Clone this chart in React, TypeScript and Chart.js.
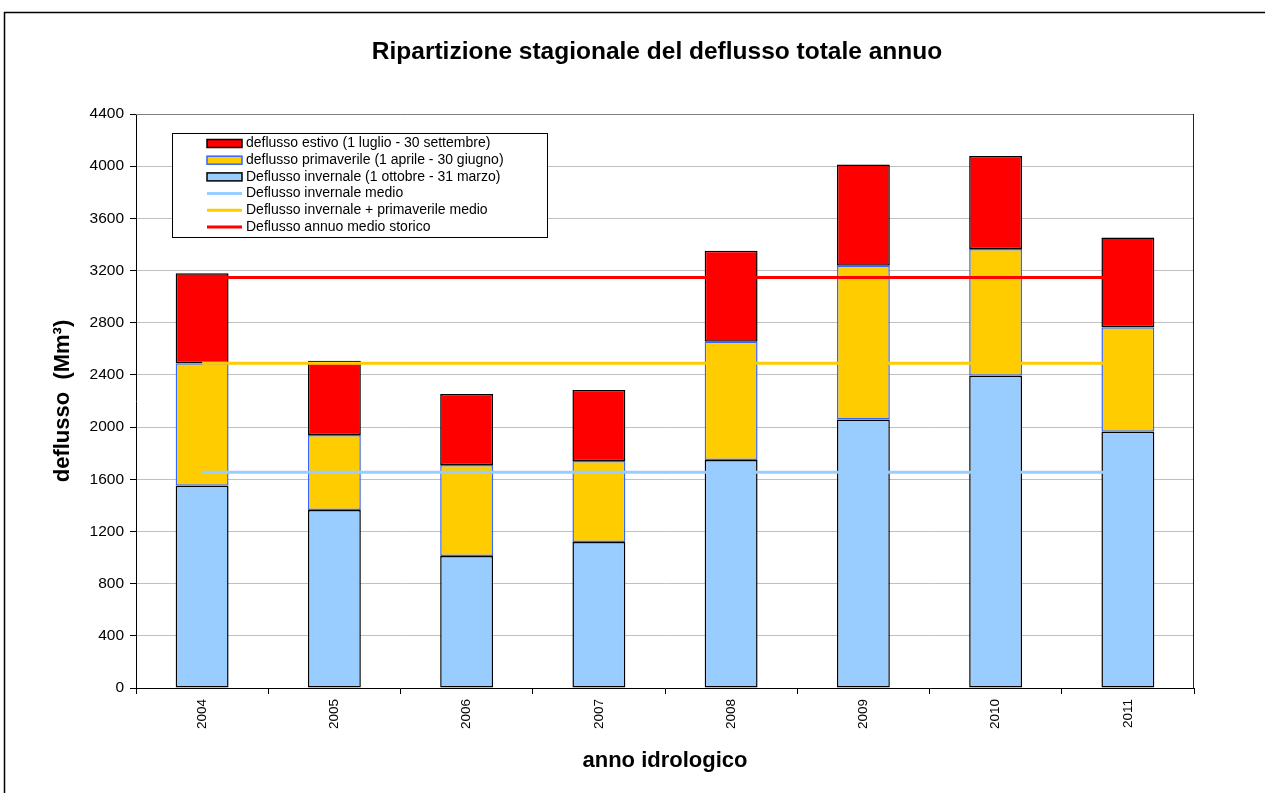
import React, { useEffect, useRef } from "react";
import { Chart, registerables } from "chart.js";

Chart.register(...registerables);

// Hydrological years on the category axis
const anni = ["2004", "2005", "2006", "2007", "2008", "2009", "2010", "2011"];

// Seasonal runoff per year (Mm³), stacked bottom to top
const deflussoInvernale = [1550, 1364, 1011, 1119, 1747, 2059, 2393, 1964];
const deflussoPrimaverile = [940, 575, 698, 621, 907, 1177, 973, 802];
const deflussoEstivo = [690, 569, 544, 544, 697, 777, 713, 688];

// Reference averages drawn as horizontal lines
const invernaleMedio = [1653, 1653, 1653, 1653, 1653, 1653, 1653, 1653];
const invernalePrimaverileMedio = [2490, 2490, 2490, 2490, 2490, 2490, 2490, 2490];
const annuoMedioStorico = [3147, 3147, 3147, 3147, 3147, 3147, 3147, 3147];

const Y_MIN = 0;
const Y_MAX = 4400;
const Y_STEP = 400;

const FONT = "'Liberation Sans', Arial, Helvetica, sans-serif";

const titolo = "Ripartizione stagionale del deflusso totale annuo";
const titoloAsseY = "deflusso  (Mm³)";
const titoloAsseX = "anno idrologico";

// Legend order: dataset indices
const legendOrder = [2, 1, 0, 3, 4, 5];

const framePlugin = {
  id: "frame",
  beforeDraw(chart: any) {
    const ctx = chart.ctx;
    ctx.save();
    ctx.fillStyle = "#ffffff";
    ctx.fillRect(0, 0, chart.width, chart.height);
    ctx.strokeStyle = "#000000";
    ctx.lineWidth = 1.5;
    ctx.strokeRect(4.5, 12.5, chart.width + 20, chart.height + 20);
    // main title
    ctx.fillStyle = "#000000";
    ctx.font = `bold 24.5px ${FONT}`;
    ctx.textAlign = "center";
    ctx.textBaseline = "middle";
    ctx.fillText(titolo, 657, 52);
    ctx.restore();
  },
  beforeDatasetsDraw(chart: any) {
    const { ctx, chartArea } = chart;
    ctx.save();
    ctx.lineWidth = 1;
    ctx.strokeStyle = "#808080";
    ctx.beginPath();
    ctx.moveTo(chartArea.left, chartArea.top + 0.5);
    ctx.lineTo(chartArea.right, chartArea.top + 0.5);
    ctx.stroke();
    ctx.strokeStyle = "#222222";
    ctx.beginPath();
    ctx.moveTo(chartArea.right - 0.5, chartArea.top);
    ctx.lineTo(chartArea.right - 0.5, chartArea.bottom);
    ctx.stroke();
    ctx.restore();
  },
};

const legendBoxPlugin = {
  id: "legendBox",
  afterDraw(chart: any) {
    const ctx = chart.ctx;
    const x0 = 172;
    const y0 = 133;
    const w = 375;
    const h = 104;
    ctx.save();
    ctx.fillStyle = "#ffffff";
    ctx.fillRect(x0, y0, w, h);
    ctx.strokeStyle = "#000000";
    ctx.lineWidth = 1;
    ctx.strokeRect(x0 + 0.5, y0 + 0.5, w, h);
    ctx.font = `14px ${FONT}`;
    ctx.textBaseline = "middle";
    ctx.textAlign = "left";
    const rowH = 16.7;
    legendOrder.forEach((idx, i) => {
      const ds = chart.data.datasets[idx];
      const cy = y0 + 10.5 + i * rowH;
      const sx = 207;
      const sw = 35;
      if (ds.type === "line") {
        ctx.strokeStyle = ds.borderColor;
        ctx.lineWidth = 3;
        ctx.beginPath();
        ctx.moveTo(sx, cy);
        ctx.lineTo(sx + sw, cy);
        ctx.stroke();
      } else {
        ctx.fillStyle = ds.backgroundColor;
        ctx.fillRect(sx, cy - 4, sw, 8);
        ctx.strokeStyle = ds.borderColor;
        ctx.lineWidth = 1.5;
        ctx.strokeRect(sx, cy - 4, sw, 8);
      }
      ctx.fillStyle = "#000000";
      ctx.fillText(ds.label, 246, cy);
    });
    ctx.restore();
  },
};

export default function App() {
  const canvasRef = useRef<HTMLCanvasElement | null>(null);

  useEffect(() => {
    if (!canvasRef.current) return;
    const barCommon = {
      type: "bar" as const,
      stack: "stagioni",
      borderWidth: 1.5,
      borderSkipped: false,
      barPercentage: 0.4,
      categoryPercentage: 1.0,
      order: 1,
    };
    const lineCommon = {
      type: "line" as const,
      borderWidth: 3,
      pointRadius: 0,
      pointHoverRadius: 0,
      fill: false,
      tension: 0,
      order: 0,
    };
    const chart = new Chart(canvasRef.current, {
      type: "bar",
      data: {
        labels: anni,
        datasets: [
          {
            ...barCommon,
            label: "Deflusso invernale (1 ottobre - 31 marzo)",
            data: deflussoInvernale,
            backgroundColor: "#99CCFF",
            borderColor: "#000000",
          },
          {
            ...barCommon,
            label: "deflusso primaverile (1 aprile - 30 giugno)",
            data: deflussoPrimaverile,
            backgroundColor: "#FFCC00",
            borderColor: "#3366FF",
          },
          {
            ...barCommon,
            label: "deflusso estivo (1 luglio - 30 settembre)",
            data: deflussoEstivo,
            backgroundColor: "#FF0000",
            borderColor: "#000000",
          },
          {
            ...lineCommon,
            stack: "l1",
            label: "Deflusso invernale medio",
            data: invernaleMedio,
            borderColor: "#99CCFF",
            backgroundColor: "#99CCFF",
          },
          {
            ...lineCommon,
            stack: "l2",
            label: "Deflusso invernale + primaverile medio",
            data: invernalePrimaverileMedio,
            borderColor: "#FFCC00",
            backgroundColor: "#FFCC00",
          },
          {
            ...lineCommon,
            stack: "l3",
            label: "Deflusso annuo medio storico",
            data: annuoMedioStorico,
            borderColor: "#FF0000",
            backgroundColor: "#FF0000",
          },
        ] as any,
      },
      options: {
        responsive: false,
        animation: false,
        devicePixelRatio: 1,
        layout: { padding: { left: 46, right: 71, top: 114, bottom: 15 } },
        plugins: {
          legend: { display: false },
          title: { display: false },
          tooltip: { enabled: false },
        },
        scales: {
          x: {
            stacked: true,
            offset: true,
            grid: {
              offset: true,
              drawOnChartArea: false,
              drawTicks: true,
              tickLength: 6,
              tickColor: "#000000",
            },
            border: { color: "#000000", width: 1 },
            ticks: {
              color: "#000000",
              font: { family: FONT, size: 13.5 },
              maxRotation: 90,
              minRotation: 90,
              padding: 5,
              autoSkip: false,
            },
            title: {
              display: true,
              text: titoloAsseX,
              color: "#000000",
              font: { family: FONT, size: 22, weight: "bold" },
              padding: { top: 4, bottom: 4 },
            },
            afterFit(scale: any) {
              scale.height = 90;
            },
          },
          y: {
            stacked: true,
            min: Y_MIN,
            max: Y_MAX,
            grid: {
              color: "#C0C0C0",
              lineWidth: 1,
              drawTicks: true,
              tickLength: 6,
              tickColor: "#000000",
            },
            border: { color: "#000000", width: 1 },
            ticks: {
              stepSize: Y_STEP,
              color: "#000000",
              font: { family: FONT, size: 15.5 },
              padding: 6,
              callback: (value: any) => String(value),
            },
            title: {
              display: true,
              text: titoloAsseY,
              color: "#000000",
              font: { family: FONT, size: 22, weight: "bold" },
              padding: { top: 4, bottom: 4 },
            },
            afterFit(scale: any) {
              scale.width = 90;
            },
          },
        },
      } as any,
      plugins: [framePlugin, legendBoxPlugin],
    });
    return () => chart.destroy();
  }, []);

  return (
    <div style={{ position: "fixed", left: 0, top: 0, width: 1265, height: 793, background: "#fff" }}>
      <canvas ref={canvasRef} width={1265} height={793} style={{ display: "block" }} />
    </div>
  );
}
